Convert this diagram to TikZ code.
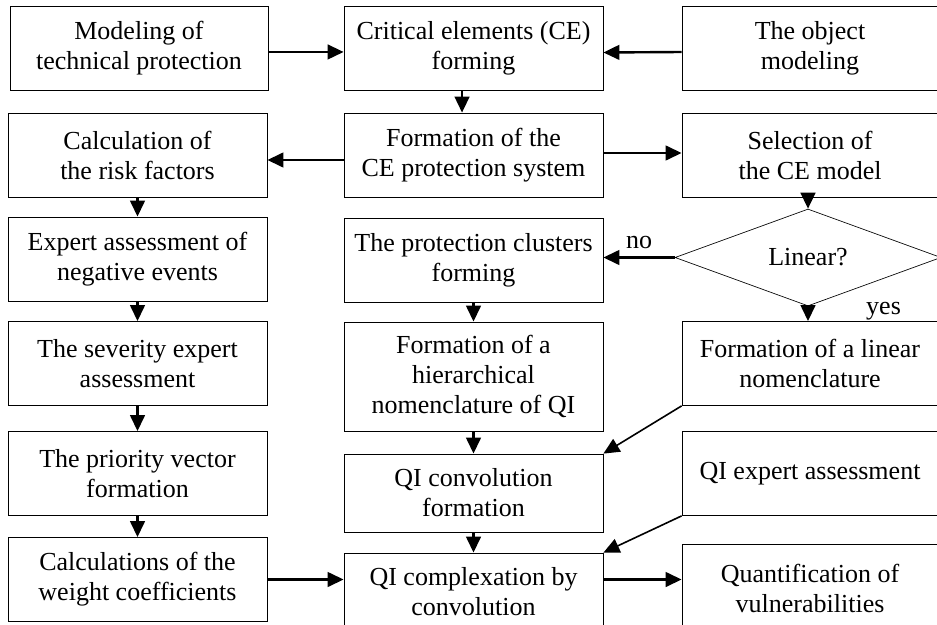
\documentclass[tikz,border=0pt]{standalone}
\usepackage{fontspec}
\setmainfont{Liberation Serif}
\usetikzlibrary{positioning, arrows.meta, shapes.geometric}

\begin{document}
\begin{tikzpicture}[
        x=0.75pt, y=-0.75pt,
        >={Triangle[length=12pt, width=11pt]},
        font=\fontsize{19.5}{22.5}\selectfont,
        block/.style={draw, line width=0.6pt, rectangle, align=center, inner sep=0pt, minimum width=194.25pt, minimum height=63pt},
        rblock/.style={block, minimum width=192pt},
        decision/.style={draw, line width=0.5pt, diamond, inner sep=0pt, minimum width=199.5pt, minimum height=68.25pt},
        link/.style={->, line width=1.8pt},
        slant/.style={->, line width=1.2pt},
    ]

    \clip (0,0) rectangle (937,624);

    % Draw the left column
    \node[block, minimum width=193.5pt] (model) at (139,48.5) {Modeling of\\technical protection};
    \node[block] (calc) at (137.5,155) {Calculation of\\the risk factors};
    \node[block] (expert) at (137.5,259) {Expert assessment of\\negative events};
    \node[block] (sev) at (137.5,363.5) {The severity expert\\assessment};
    \node[block] (prio) at (137.5,473.5) {The priority vector\\formation};
    \node[block] (wcoef) at (137.5,579.5) {Calculations of the\\weight coefficients};

    % Draw the middle column
    \node[block] (crit) at (473.5,48.5) {Critical elements (CE)\\forming};
    \node[block] (form) at (473.5,155) {Formation of the\\CE protection system};
    \node[block] (clust) at (473.5,260) {The protection clusters\\forming};
    \node[block, minimum height=81.75pt] (hier) at (473.5,376.5) {Formation of a\\hierarchical\\nomenclature of QI};
    \node[block, minimum height=58.5pt] (conv) at (473.5,493) {QI convolution\\formation};
    \node[block, minimum height=58.5pt] (cplx) at (473.5,592) {QI complexation by\\convolution};

    % Draw the right column
    \node[rblock] (obj) at (810,48) {The object\\modeling};
    \node[rblock] (sel) at (810,155) {Selection of\\the CE model};
    \node[decision] (lin) at (808,257.5) {Linear?};
    \node[rblock] (linnom) at (810,363.5) {Formation of a linear\\nomenclature};
    \node[rblock] (qiexp) at (810,473.5) {QI expert assessment};
    \node[rblock, minimum height=66pt] (quant) at (810,588) {Quantification of\\vulnerabilities};

    % Connect the top rows
    \draw[link] ([yshift=-2.6pt]model.east) -- ([yshift=-2.6pt]crit.west);
    \draw[link] ([yshift=-3pt]obj.west) -- ([yshift=-3pt]crit.east);
    \draw[link] ([xshift=-8.6pt]crit.south) -- ([xshift=-8.6pt]form.north);
    \draw[link] ([yshift=-3.75pt]form.west) -- ([yshift=-3.75pt]calc.east);
    \draw[link] ([yshift=1.5pt]form.east) -- ([yshift=1.5pt]sel.west);

    % The decision
    \draw[link] (sel.south -| lin.north) -- (lin.north);
    \draw[link] (lin.west) -- node[above, yshift=2pt] {no} (lin.west -| clust.east);
    \draw[link] (lin.south) -- node[pos=0, anchor=north west, inner sep=0pt, xshift=42.75pt, yshift=3.75pt] {yes} (lin.south |- linnom.north);

    % Chains down the left and middle columns
    \foreach \a/\b in {calc/expert, expert/sev, sev/prio, prio/wcoef}
        \draw[link] (\a) -- (\b);
    \foreach \a/\b in {clust/hier, hier/conv, conv/cplx}
        \draw[link] (\a) -- (\b);

    % Inputs into the convolution boxes
    \draw[slant] (linnom.south west) -- (conv.north east);
    \draw[slant] (qiexp.south west) -- (cplx.north east);

    % Bottom row
    \draw[link] (wcoef.east) -- (wcoef.east -| cplx.west);
    \draw[link] (wcoef.east -| cplx.east) -- (wcoef.east -| quant.west);
\end{tikzpicture}
\end{document}
